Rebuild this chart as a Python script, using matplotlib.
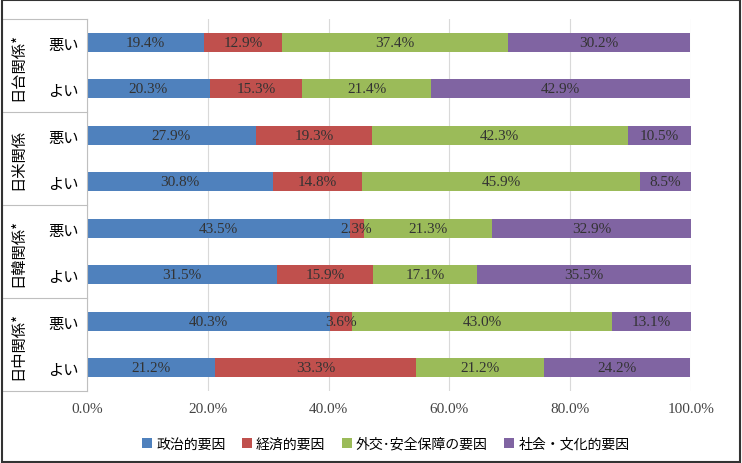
import matplotlib.pyplot as plt
import numpy as np

groups = ['日台関係*', '日米関係', '日韓関係*', '日中関係*']
subs = ['悪い', 'よい']
series = ['政治的要因', '経済的要因', '外交･安全保障の要因', '社会・文化的要因']
colors = ['#4F81BD', '#C0504D', '#9BBB59', '#8064A2']
# rows top to bottom: 日台 悪い, 日台 よい, 日米 悪い, 日米 よい, 日韓 悪い, 日韓 よい, 日中 悪い, 日中 よい
politics = [19.4, 20.3, 27.9, 30.8, 43.5, 31.5, 40.3, 21.2]
economy = [12.9, 15.3, 19.3, 14.8, 2.3, 15.9, 3.6, 33.3]
security = [37.4, 21.4, 42.3, 45.9, 21.3, 17.1, 43.0, 21.2]
culture = [30.2, 42.9, 10.5, 8.5, 32.9, 35.5, 13.1, 24.2]

plt.rcParams['font.family'] = ['Liberation Serif', 'Noto Sans CJK JP']
fig = plt.figure(figsize=(7.42, 4.64), dpi=100)
fig.patches.append(plt.Rectangle((0.003, 0.003), 0.994, 0.994, transform=fig.transFigure,
                                 fill=False, edgecolor='#333333', lw=1.5))
ax = fig.add_axes([87/742, 1-392/464, 604/742, 372/464])

data = [politics, economy, security, culture]
n = len(politics)
y = np.arange(n)
left = np.zeros(n)
for vals, c, name in zip(data, colors, series):
    vals = np.array(vals)
    ax.barh(y, vals, left=left, height=0.4, color=c, label=name)
    for yi, l, v in zip(y, left, vals):
        ax.text(l+v/2, yi, f'{v:.1f}%', ha='center', va='center', fontsize=11, color='#333333')
    left += vals

ax.set_ylim(n-0.5, -0.5)
ax.set_xlim(0, 100)
ax.set_xticks(np.arange(0, 101, 20), [f'{v:.1f}%' for v in range(0, 101, 20)], fontsize=11, color='#444444')
ax.xaxis.grid(True, color='#d9d9d9', lw=0.8)
ax.set_axisbelow(True)
for s in ['top', 'right', 'bottom']:
    ax.spines[s].set_visible(False)
ax.spines['left'].set_color('#bfbfbf')
ax.tick_params(axis='x', length=0, pad=8)
ax.set_yticks(y, subs*len(groups), fontsize=11, fontfamily='Noto Sans CJK JP')
ax.tick_params(axis='y', length=0, pad=6)

for i, g in enumerate(groups):
    ax.text(-11.5, 2*i+0.5, g, rotation=90, ha='center', va='center', fontsize=11,
            fontfamily='Noto Sans CJK JP', transform=ax.transData, clip_on=False)
for b in np.arange(-0.5, n, 2):
    ax.plot([-14, 0], [b, b], color='#bfbfbf', lw=0.8, clip_on=False)
ax.plot([-14, -14], [-0.5, n-0.5], color='#bfbfbf', lw=0.8, clip_on=False)

fig.legend(loc='lower center', bbox_to_anchor=(0.52, 0.0), ncol=4, frameon=False,
           prop={'family': 'Noto Sans CJK JP', 'size': 10}, handlelength=0.7, handleheight=0.7,
           columnspacing=1.2, handletextpad=0.3)
fig.savefig('out.png', dpi=100)
